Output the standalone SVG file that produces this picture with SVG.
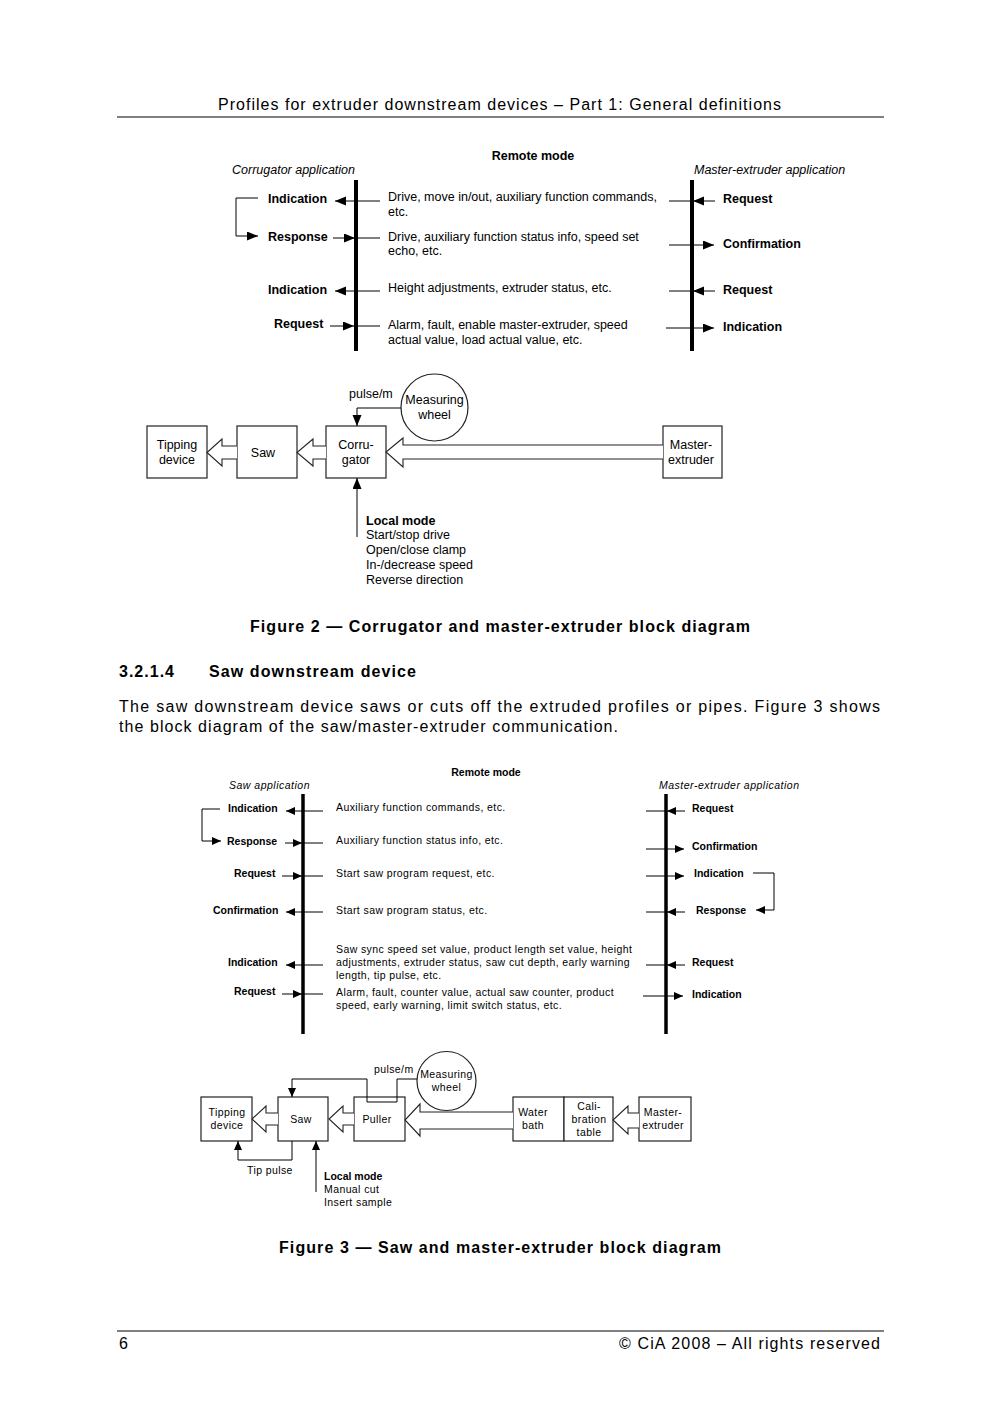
<svg xmlns="http://www.w3.org/2000/svg" width="1000" height="1415" viewBox="0 0 1000 1415">
<style>
text{font-family:"Liberation Sans",Arial,sans-serif;fill:#000}
.pg{font-size:16px}
.pgb{font-size:16px;font-weight:bold}
.l2{font-size:12.5px}
.b2{font-size:12.5px;font-weight:bold}
.i2{font-size:12.5px;font-style:italic}
.l3{font-size:10.5px;letter-spacing:0.4px}
.b3{font-size:10.5px;font-weight:bold}
.i3{font-size:10.5px;font-style:italic;letter-spacing:0.5px}
.c{text-anchor:middle}
.ln{stroke:#000;stroke-width:1;fill:none}
.bx{stroke:#222;stroke-width:1.2;fill:#fff}
.ha{stroke:#222;stroke-width:1.1;fill:#fff}
.th{stroke:#000;stroke-width:4}
.th3{stroke:#000;stroke-width:3.5}
</style>
<defs>
<marker id="ah" markerUnits="userSpaceOnUse" markerWidth="12" markerHeight="10" refX="11" refY="4.5" orient="auto"><path d="M0,0 L11,4.5 L0,9 z" fill="#000"/></marker>
<marker id="ah3" markerUnits="userSpaceOnUse" markerWidth="10" markerHeight="9" refX="9" refY="4" orient="auto"><path d="M0,0 L9,4 L0,8 z" fill="#000"/></marker>
</defs>
<rect width="1000" height="1415" fill="#fff"/>

<g id="page">
<text class="pg" x="218" y="110" textLength="563" lengthAdjust="spacing">Profiles for extruder downstream devices – Part 1: General definitions</text>
<line x1="117" y1="117" x2="884" y2="117" stroke="#000" stroke-width="1.2"/>
<text class="pgb" x="250" y="632" textLength="500" lengthAdjust="spacing">Figure 2 — Corrugator and master-extruder block diagram</text>
<text class="pgb" x="119" y="677" textLength="55" lengthAdjust="spacing">3.2.1.4</text>
<text class="pgb" x="209" y="677" textLength="207" lengthAdjust="spacing">Saw downstream device</text>
<text class="pg" x="119" y="712" textLength="761" lengthAdjust="spacing">The saw downstream device saws or cuts off the extruded profiles or pipes. Figure 3 shows</text>
<text class="pg" x="119" y="732" textLength="499" lengthAdjust="spacing">the block diagram of the saw/master-extruder communication.</text>
<text class="pgb" x="279" y="1253" textLength="442" lengthAdjust="spacing">Figure 3 — Saw and master-extruder block diagram</text>
<line x1="117" y1="1331" x2="884" y2="1331" stroke="#000" stroke-width="1.2"/>
<text class="pg" x="119" y="1349">6</text>
<text class="pg" x="619" y="1349" textLength="261" lengthAdjust="spacing">© CiA 2008 – All rights reserved</text>
</g>

<!-- Figure 2 remote mode -->
<g id="fig2-remote">
<text class="b2 c" x="533" y="160">Remote mode</text>
<text class="i2" x="232" y="174">Corrugator application</text>
<text class="i2" x="694" y="174">Master-extruder application</text>
<g id="f2-corrugator-app">
<line class="th" x1="356" y1="180" x2="356" y2="351"/>
<text class="b2" x="268" y="203">Indication</text>
<text class="b2" x="268" y="241">Response</text>
<text class="b2" x="268" y="294">Indication</text>
<text class="b2" x="274" y="328">Request</text>
</g>
<g id="f2-master-app">
<line class="th" x1="692" y1="180" x2="692" y2="351"/>
<text class="b2" x="723" y="203">Request</text>
<text class="b2" x="723" y="248">Confirmation</text>
<text class="b2" x="723" y="294">Request</text>
<text class="b2" x="723" y="331">Indication</text>
</g>
<g id="f2-messages">
<text class="l2" x="388" y="201">Drive, move in/out, auxiliary function commands,</text>
<text class="l2" x="388" y="216">etc.</text>
<text class="l2" x="388" y="241">Drive, auxiliary function status info, speed set</text>
<text class="l2" x="388" y="255">echo, etc.</text>
<text class="l2" x="388" y="292">Height adjustments, extruder status, etc.</text>
<text class="l2" x="388" y="329">Alarm, fault, enable master-extruder, speed</text>
<text class="l2" x="388" y="344">actual value, load actual value, etc.</text>
</g>
</g>

<g id="f2-connectors">
<line class="ln" x1="380" y1="201" x2="335" y2="201" marker-end="url(#ah)"/>
<path class="ln" d="M258,198 H236 V236 H258" marker-end="url(#ah)"/>
<line class="ln" x1="333" y1="238" x2="355" y2="238" marker-end="url(#ah)"/>
<line class="ln" x1="355" y1="238" x2="380" y2="238"/>
<line class="ln" x1="380" y1="291" x2="335" y2="291" marker-end="url(#ah)"/>
<line class="ln" x1="330" y1="326" x2="354" y2="326" marker-end="url(#ah)"/>
<line class="ln" x1="354" y1="326" x2="380" y2="326"/>
<line class="ln" x1="715" y1="201" x2="693" y2="201" marker-end="url(#ah)"/>
<line class="ln" x1="669" y1="201" x2="693" y2="201"/>
<line class="ln" x1="669" y1="245" x2="714" y2="245" marker-end="url(#ah)"/>
<line class="ln" x1="715" y1="291" x2="693" y2="291" marker-end="url(#ah)"/>
<line class="ln" x1="669" y1="291" x2="693" y2="291"/>
<line class="ln" x1="666" y1="328" x2="714" y2="328" marker-end="url(#ah)"/>
</g>

<!-- Figure 2 block diagram -->
<g id="f2-tipping"><rect class="bx" x="147" y="426" width="60" height="52"/><text class="l2 c" x="177" y="449">Tipping</text><text class="l2 c" x="177" y="464">device</text></g>
<g id="f2-saw"><rect class="bx" x="237" y="426" width="60" height="52"/><text class="l2 c" x="263" y="457">Saw</text></g>
<g id="f2-corrugator"><rect class="bx" x="326" y="426" width="60" height="52"/><text class="l2 c" x="356" y="449">Corru-</text><text class="l2 c" x="356" y="464">gator</text></g>
<g id="f2-master"><rect class="bx" x="663" y="426" width="59" height="52"/><text class="l2 c" x="691" y="449">Master-</text><text class="l2 c" x="691" y="464">extruder</text></g>
<g id="f2-wheel"><circle class="bx" cx="434.5" cy="407.5" r="33.5"/><text class="l2 c" x="434.5" y="404">Measuring</text><text class="l2 c" x="434.5" y="419">wheel</text></g>
<g id="f2-local"><text class="b2" x="366" y="525">Local mode</text><text class="l2" x="366" y="539">Start/stop drive</text><text class="l2" x="366" y="554">Open/close clamp</text><text class="l2" x="366" y="569">In-/decrease speed</text><text class="l2" x="366" y="584">Reverse direction</text></g>
<g id="f2-flow">
<path class="ha" d="M237,446 H222 V439 L207,452.5 L222,466 V459 H237"/>
<path class="ha" d="M326,446 H313 V439 L297,452.5 L313,466 V459 H326"/>
<path class="ha" d="M663,445 H403 V438 L386,452 L403,467 V459 H663"/>
<path class="ln" d="M401,408 H357 V426" marker-end="url(#ah)"/>
<text class="l2" x="349" y="398">pulse/m</text>
<line class="ln" x1="357" y1="537" x2="357" y2="478" marker-end="url(#ah)"/>
</g>

<!-- Figure 3 remote mode -->
<g id="fig3-remote">
<text class="b3 c" x="486" y="776">Remote mode</text>
<text class="i3" x="229" y="789">Saw application</text>
<text class="i3" x="659" y="789">Master-extruder application</text>
<g id="f3-saw-app">
<line class="th3" x1="303" y1="794" x2="303" y2="1034"/>
<text class="b3" x="228" y="812">Indication</text>
<text class="b3" x="227" y="845">Response</text>
<text class="b3" x="234" y="877">Request</text>
<text class="b3" x="213" y="914">Confirmation</text>
<text class="b3" x="228" y="966">Indication</text>
<text class="b3" x="234" y="995">Request</text>
</g>
<g id="f3-master-app">
<line class="th3" x1="666" y1="794" x2="666" y2="1034"/>
<text class="b3" x="692" y="812">Request</text>
<text class="b3" x="692" y="850">Confirmation</text>
<text class="b3" x="694" y="877">Indication</text>
<text class="b3" x="696" y="914">Response</text>
<text class="b3" x="692" y="966">Request</text>
<text class="b3" x="692" y="998">Indication</text>
</g>
<g id="f3-messages">
<text class="l3" x="336" y="811">Auxiliary function commands, etc.</text>
<text class="l3" x="336" y="844">Auxiliary function status info, etc.</text>
<text class="l3" x="336" y="877">Start saw program request, etc.</text>
<text class="l3" x="336" y="914">Start saw program status, etc.</text>
<text class="l3" x="336" y="953">Saw sync speed set value, product length set value, height</text>
<text class="l3" x="336" y="966">adjustments, extruder status, saw cut depth, early warning</text>
<text class="l3" x="336" y="979">length, tip pulse, etc.</text>
<text class="l3" x="336" y="996">Alarm, fault, counter value, actual saw counter, product</text>
<text class="l3" x="336" y="1009">speed, early warning, limit switch status, etc.</text>
</g>
</g>

<g id="f3-connectors">
<line class="ln" x1="323" y1="811" x2="286" y2="811" marker-end="url(#ah3)"/>
<path class="ln" d="M220,809 H202 V841 H221" marker-end="url(#ah3)"/>
<line class="ln" x1="285" y1="843" x2="302" y2="843" marker-end="url(#ah3)"/>
<line class="ln" x1="302" y1="843" x2="323" y2="843"/>
<line class="ln" x1="282" y1="876" x2="302" y2="876" marker-end="url(#ah3)"/>
<line class="ln" x1="302" y1="876" x2="323" y2="876"/>
<line class="ln" x1="323" y1="912" x2="286" y2="912" marker-end="url(#ah3)"/>
<line class="ln" x1="323" y1="965" x2="286" y2="965" marker-end="url(#ah3)"/>
<line class="ln" x1="282" y1="994" x2="302" y2="994" marker-end="url(#ah3)"/>
<line class="ln" x1="302" y1="994" x2="323" y2="994"/>
<line class="ln" x1="685" y1="811" x2="667" y2="811" marker-end="url(#ah3)"/>
<line class="ln" x1="646" y1="811" x2="667" y2="811"/>
<line class="ln" x1="646" y1="849" x2="684" y2="849" marker-end="url(#ah3)"/>
<line class="ln" x1="646" y1="876" x2="684" y2="876" marker-end="url(#ah3)"/>
<path class="ln" d="M753,873 H774 V910 H756" marker-end="url(#ah3)"/>
<line class="ln" x1="685" y1="912" x2="667" y2="912" marker-end="url(#ah3)"/>
<line class="ln" x1="646" y1="912" x2="667" y2="912"/>
<line class="ln" x1="685" y1="965" x2="667" y2="965" marker-end="url(#ah3)"/>
<line class="ln" x1="646" y1="965" x2="667" y2="965"/>
<line class="ln" x1="643" y1="996" x2="683" y2="996" marker-end="url(#ah3)"/>
</g>

<!-- Figure 3 block diagram -->
<g id="f3-tipping"><rect class="bx" x="201" y="1097" width="51" height="44"/><text class="l3 c" x="227" y="1116">Tipping</text><text class="l3 c" x="227" y="1129">device</text></g>
<g id="f3-saw"><rect class="bx" x="278" y="1097" width="50" height="44"/><text class="l3 c" x="301" y="1123">Saw</text></g>
<g id="f3-puller"><rect class="bx" x="354" y="1097" width="51" height="44"/><text class="l3 c" x="377" y="1123">Puller</text></g>
<g id="f3-water"><rect class="bx" x="513" y="1097" width="51" height="44"/><text class="l3 c" x="533" y="1116">Water</text><text class="l3 c" x="533" y="1129">bath</text></g>
<g id="f3-calibration"><rect class="bx" x="564" y="1097" width="49" height="44"/><text class="l3 c" x="589" y="1110">Cali-</text><text class="l3 c" x="589" y="1123">bration</text><text class="l3 c" x="589" y="1136">table</text></g>
<g id="f3-master"><rect class="bx" x="639" y="1097" width="52" height="44"/><text class="l3 c" x="663" y="1116">Master-</text><text class="l3 c" x="663" y="1129">extruder</text></g>
<g id="f3-wheel"><circle class="bx" cx="446.5" cy="1081" r="29.5"/><text class="l3 c" x="446.5" y="1078">Measuring</text><text class="l3 c" x="446.5" y="1091">wheel</text></g>
<g id="f3-local"><text class="b3" x="324" y="1180">Local mode</text><text class="l3" x="324" y="1193">Manual cut</text><text class="l3" x="324" y="1206">Insert sample</text></g>
<g id="f3-flow">
<path class="ha" d="M278,1113 H266 V1106 L252,1119 L266,1132 V1125 H278"/>
<path class="ha" d="M354,1113 H343 V1106 L329,1119 L343,1132 V1125 H354"/>
<path class="ha" d="M513,1112 H420 V1104 L405,1120 L420,1136 V1129 H513"/>
<path class="ha" d="M639,1113 H628 V1106 L613,1120 L628,1134 V1128 H639"/>
<path class="ln" d="M417,1079 H397 V1102 H367 V1079 H292 V1097" marker-end="url(#ah3)"/>
<text class="l3" x="374" y="1073">pulse/m</text>
<path class="ln" d="M292,1141 V1160 H238 V1141" marker-end="url(#ah3)"/>
<text class="l3" x="247" y="1174">Tip pulse</text>
<line class="ln" x1="316" y1="1192" x2="316" y2="1141" marker-end="url(#ah3)"/>
</g>
</svg>
